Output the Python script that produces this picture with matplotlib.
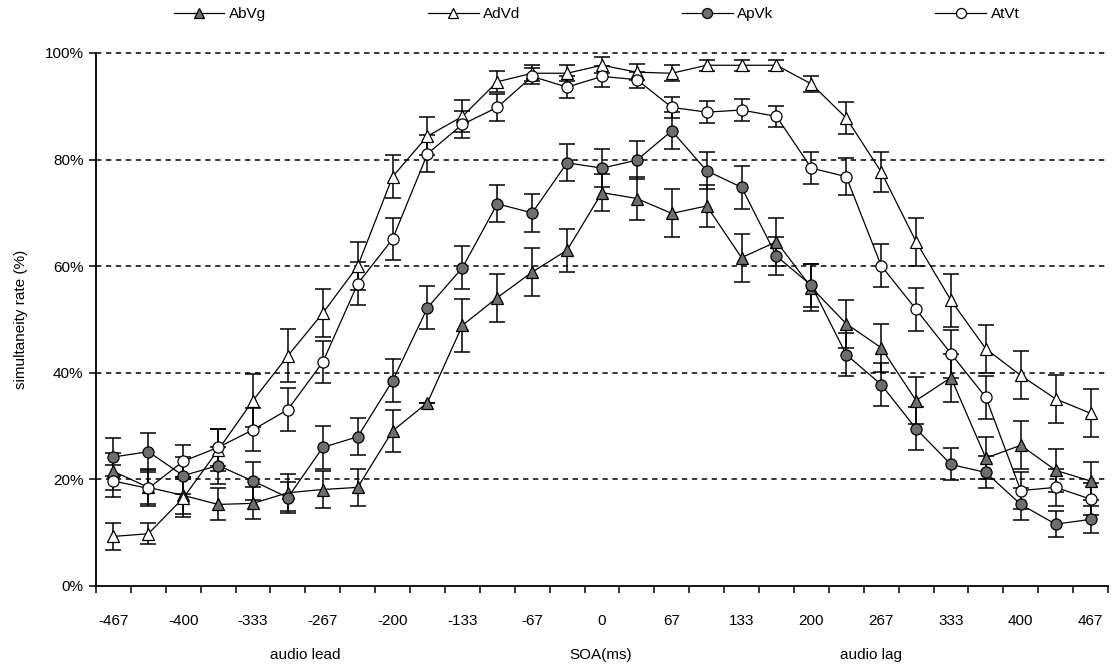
"""Simultaneity judgement curves for the four audio-visual stimulus pairs.

Mean simultaneity rate (+/- SE) against stimulus onset asynchrony, drawn in
the old spreadsheet style: grey/white markers, dashed horizontal grid.
"""

import matplotlib

matplotlib.use("Agg")
import matplotlib.pyplot as plt
import numpy as np
from matplotlib.ticker import FixedLocator, NullFormatter

# SOA levels (ms), negative = audio lead
SOA = [-467, -433, -400, -367, -333, -300, -267, -233, -200, -167, -133, -100, -67, -33,
       0, 33, 67, 100, 133, 167, 200, 233, 267, 300, 333, 367, 400, 433, 467]

ABVG = [21.5, 18.5, 17.0, 15.3, 15.5, 17.5, 18.1, 18.5, 29.1, 34.4, 48.9, 54.1, 58.9, 63.0,
        73.8, 72.7, 69.9, 71.3, 61.6, 64.6, 56.0, 49.2, 44.7, 34.8, 39.1, 24.0, 26.4, 21.7, 19.7]
ADVD = [9.3, 9.8, 16.5, 25.5, 34.8, 43.2, 51.2, 60.0, 76.8, 84.4, 88.1, 94.6, 96.2, 96.2,
        97.7, 96.4, 96.2, 97.7, 97.7, 97.7, 94.2, 87.8, 77.7, 64.6, 53.6, 44.5, 39.5, 35.1, 32.4]
APVK = [24.2, 25.2, 20.7, 22.6, 19.7, 16.6, 26.0, 28.0, 38.5, 52.2, 59.7, 71.7, 70.0, 79.4,
        78.4, 79.9, 85.4, 77.9, 74.8, 61.9, 56.4, 43.4, 37.8, 29.5, 22.8, 21.3, 15.3, 11.6, 12.5]
ATVT = [19.7, 18.3, 23.4, 26.0, 29.3, 33.1, 42.0, 56.7, 65.1, 81.1, 86.6, 89.8, 95.6, 93.6,
        95.6, 95.0, 89.8, 88.9, 89.3, 88.1, 78.4, 76.8, 60.1, 51.9, 43.6, 35.4, 17.9, 18.5, 16.3]

# standard errors
ABVG_ERR = [3.5, 3.5, 3.5, 3, 3, 3.5, 3.5, 3.5, 4, 0, 5, 4.5, 4.5, 4, 3.5, 4, 4.5, 4, 4.5,
            4.5, 4.5, 4.5, 4.5, 4.5, 4.5, 4, 4.5, 4, 3.5]
ADVD_ERR = [2.5, 2, 3.5, 4, 5, 5, 4.5, 4.5, 4, 3.5, 3, 2, 1.5, 1.5, 1.5, 1.5, 1.5, 1, 1, 1,
            1.5, 3, 3.8, 4.5, 5, 4.5, 4.5, 4.5, 4.5]
APVK_ERR = [3.5, 3.5, 3.5, 3.5, 3.5, 3, 4, 3.5, 4, 4, 4, 3.5, 3.5, 3.5, 3.5, 3.5, 3.5, 3.5,
            4, 3.5, 4, 4, 4, 4, 3, 3, 3, 2.5, 2.5]
ATVT_ERR = [3, 3, 3, 3.5, 4, 4, 4, 4, 4, 3.5, 2.5, 2.5, 1.5, 2, 2, 1.5, 2, 2, 2, 2, 3, 3.5,
            4, 4, 4.5, 4, 3.5, 3.5, 3]

GREY = "#6e6e6e"

plt.rcParams.update(
    {
        "font.family": ["Liberation Sans", "DejaVu Sans"],
        "font.size": 11,
    }
)

x = np.arange(len(SOA))

fig = plt.figure(figsize=(11.12, 6.70), dpi=100)
ax = fig.add_axes([0.0863, 0.1254, 0.9101, 0.7955])

series = [
    ("AbVg", ABVG, ABVG_ERR, "^", GREY),
    ("AdVd", ADVD, ADVD_ERR, "^", "white"),
    ("ApVk", APVK, APVK_ERR, "o", GREY),
    ("AtVt", ATVT, ATVT_ERR, "o", "white"),
]
handles = []
for name, vals, err, mk, fc in series:
    ax.errorbar(x, vals, yerr=err, fmt="none", ecolor="black", elinewidth=1.1,
                capsize=6, capthick=1.1, zorder=3, clip_on=False)
    (ln,) = ax.plot(x, vals, color="black", lw=0.9, marker=mk, markersize=8,
                    markerfacecolor=fc, markeredgecolor="black", markeredgewidth=0.9,
                    label=name, zorder=4, clip_on=False)
    handles.append(ln)

# dashed horizontal grid (top line sits on the axes edge, so no clipping)
for yv in [20, 40, 60, 80, 100]:
    ax.axhline(yv, color="black", lw=1.1, ls=(0, (3.5, 3)), zorder=1, clip_on=False)

ax.set_xlim(-0.5, len(SOA) - 0.5)
ax.set_ylim(0, 100)
ax.set_yticks([0, 20, 40, 60, 80, 100])
ax.set_yticklabels([f"{v}%" for v in [0, 20, 40, 60, 80, 100]])
ax.set_xticks(x[::2])
ax.set_xticklabels([str(s) for s in SOA[::2]])
ax.xaxis.set_minor_locator(FixedLocator(np.arange(-0.5, len(SOA), 1.0)))
ax.xaxis.set_minor_formatter(NullFormatter())
ax.tick_params(axis="x", which="major", length=0, pad=20)
ax.tick_params(axis="x", which="minor", length=5, width=1.1, direction="out")
ax.tick_params(axis="y", length=5, width=1.1, direction="out", pad=4)
for side in ["top", "right"]:
    ax.spines[side].set_visible(False)
for side in ["left", "bottom"]:
    ax.spines[side].set_linewidth(1.3)

ax.set_ylabel("simultaneity rate (%)", labelpad=12)

# x-axis captions under the tick labels
tr = matplotlib.transforms.blended_transform_factory(ax.transData, fig.transFigure)
ax.text(5.5, 0.022, "audio lead", transform=tr, ha="center", va="center")
ax.text(13.95, 0.022, "SOA(ms)", transform=tr, ha="center", va="center")
ax.text(21.7, 0.022, "audio lag", transform=tr, ha="center", va="center")

fig.legend(handles=handles, loc="center left", bbox_to_anchor=(0.151, 0.979), ncol=4,
           frameon=False, handlelength=3.3, columnspacing=10.6, handletextpad=0.3,
           borderaxespad=0, markerscale=0.9)

fig.savefig("out.png", dpi=100)
